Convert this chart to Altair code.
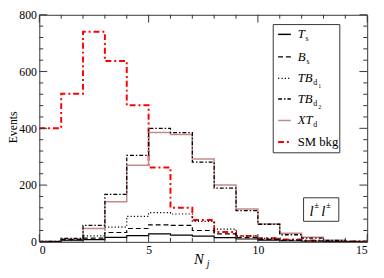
import altair as alt
import pandas as pd

# ---- data ----
edges = list(range(16))  # bin edges 0..15
T_s   = [1, 4, 8, 16, 22, 28, 24, 20, 15, 10, 6, 3, 2, 1, 1]
B_s   = [1, 8, 13, 33, 47, 60, 58, 40, 28, 15, 9, 5, 3, 2, 1]
TB_d1 = [1, 7, 21, 52, 90, 103, 98, 72, 45, 20, 12, 7, 4, 2, 1]
TB_d2 = [2, 12, 58, 167, 305, 400, 385, 281, 189, 110, 62, 25, 13, 5, 2]
XT_d  = [2, 10, 47, 141, 270, 385, 378, 292, 200, 116, 63, 30, 16, 6, 2]
SM_bkg = [400, 522, 740, 637, 481, 262, 120, 77, 35, 21, 13, 8, 5, 3, 2]

x_major = [0, 5, 10, 15]
x_minor = [1, 2, 3, 4, 6, 7, 8, 9, 11, 12, 13, 14]
y_major = [0, 200, 400, 600, 800]
y_minor = [40, 80, 120, 160, 240, 280, 320, 360, 440, 480, 520, 560, 640, 680, 720, 760]

W, H = 335, 232
FONT = "Liberation Serif"

xs = alt.Scale(domain=[0, 15], nice=False, zero=False)
ys = alt.Scale(domain=[0, 800], nice=False)
AX = alt.Axis(values=x_major, title=None, ticks=False, domain=False, grid=False, labelPadding=3)
AY = alt.Axis(values=y_major, title=None, ticks=False, domain=False, grid=False, labelPadding=3)


def step_df(vals):
    return pd.DataFrame({"x": edges, "y": vals + [vals[-1]]})


def series(vals, color, width, dash=None):
    kw = dict(interpolate="step-after", color=color, strokeWidth=width, clip=True)
    if dash:
        kw["strokeDash"] = dash
    return alt.Chart(step_df(vals)).mark_line(**kw).encode(
        x=alt.X("x:Q", scale=xs, axis=AX), y=alt.Y("y:Q", scale=ys, axis=AY))


DASHDOT_RED = [6, 3, 2, 3]
DASHDOT = [4, 2, 1.5, 2]
DOT = [1.2, 2.2]
DASH = [5, 3]
XT_COLOR = "#c48a8a"

layers = [
    series(SM_bkg, "#ff0000", 2, DASHDOT_RED),
    series(XT_d, XT_COLOR, 1.5),
    series(TB_d2, "black", 1.3, DASHDOT),
    series(TB_d1, "black", 1.2, DOT),
    series(B_s, "black", 1.2, DASH),
    series(T_s, "black", 1.2),
]

# ---- inward ticks on all four sides ----
def xticks(vals, length):
    d = pd.DataFrame({"x": vals})
    b = alt.Chart(d).mark_rule(color="#333", strokeWidth=1).encode(
        x=alt.X("x:Q", scale=xs, axis=AX), y=alt.value(H), y2=alt.value(H - length))
    t = alt.Chart(d).mark_rule(color="#333", strokeWidth=1).encode(
        x=alt.X("x:Q", scale=xs, axis=AX), y=alt.value(0), y2=alt.value(length))
    return [b, t]


def yticks(vals, length):
    d = pd.DataFrame({"y": vals})
    l = alt.Chart(d).mark_rule(color="#333", strokeWidth=1).encode(
        y=alt.Y("y:Q", scale=ys, axis=AY), x=alt.value(0), x2=alt.value(length))
    r = alt.Chart(d).mark_rule(color="#333", strokeWidth=1).encode(
        y=alt.Y("y:Q", scale=ys, axis=AY), x=alt.value(W), x2=alt.value(W - length))
    return [l, r]


layers += xticks(x_major, 8) + xticks(x_minor, 4) + yticks(y_major, 8) + yticks(y_minor, 4)

one = pd.DataFrame({"k": [0]})


def txt(s, x, y, size, italic=False, align="left", angle=None):
    kw = dict(font=FONT, fontSize=size, align=align, baseline="middle", color="black")
    if italic:
        kw["fontStyle"] = "italic"
    if angle is not None:
        kw["angle"] = angle
    return alt.Chart(one).mark_text(**kw).encode(
        x=alt.value(x), y=alt.value(y), text=alt.value(s))


def box(x1, x2, y1, y2):
    return alt.Chart(one).mark_rect(fill="white", stroke="#333", strokeWidth=1).encode(
        x=alt.value(x1), x2=alt.value(x2), y=alt.value(y1), y2=alt.value(y2))


SX1, SX2 = 244, 257


def sample(y, color, width, dash=None):
    kw = dict(color=color, strokeWidth=width)
    if dash:
        kw["strokeDash"] = dash
    return alt.Chart(one).mark_rule(**kw).encode(
        x=alt.value(SX1), x2=alt.value(SX2), y=alt.value(y))


# ---- legend ----
ly = [20, 43, 65, 86, 108, 130]
layers += [box(239, 307, 10, 141)]
layers += [
    sample(ly[0], "black", 1.5),
    sample(ly[1], "black", 1.5, DASH),
    sample(ly[2], "black", 1.2, DOT),
    sample(ly[3], "black", 1.5, DASHDOT),
    sample(ly[4], XT_COLOR, 1.5),
    sample(ly[5], "#ff0000", 2, DASHDOT_RED),
]
TX = 264
layers += [
    txt("T", TX, ly[0], 13, True), txt("s", TX + 8, ly[0] + 5, 8),
    txt("B", TX, ly[1], 13, True), txt("s", TX + 9, ly[1] + 5, 8),
    txt("TB", TX, ly[2], 13, True), txt("d", TX + 16, ly[2] + 5, 8), txt("1", TX + 21, ly[2] + 8, 6),
    txt("TB", TX, ly[3], 13, True), txt("d", TX + 16, ly[3] + 5, 8), txt("2", TX + 21, ly[3] + 8, 6),
    txt("XT", TX, ly[4], 13, True), txt("d", TX + 16, ly[4] + 5, 8),
    txt("SM bkg", TX, ly[5], 13),
]

# ---- l±l± label ----
layers += [box(270, 306, 187, 211)]
layers += [
    txt("l", 276, 201, 15, True), txt("±", 281, 194, 9),
    txt("l", 288, 201, 15, True), txt("±", 293, 194, 9),
]

# ---- axis titles ----
layers += [txt("N", 163, 250, 15, True, "center"), txt("j", 171, 255, 10, True, "left")]
layers += [txt("Events", -27, H / 2 - 1, 12, False, "center", 270)]

chart = alt.layer(*layers).properties(
    width=W, height=H, autosize="none",
    padding={"left": 32, "top": 4, "right": 9, "bottom": 34},
).configure_view(stroke="#333", strokeWidth=1).configure_axis(
    labelFont=FONT, labelFontSize=12, labelColor="black",
)

chart.save("out.html", embed_options={"renderer": "svg", "actions": False})
